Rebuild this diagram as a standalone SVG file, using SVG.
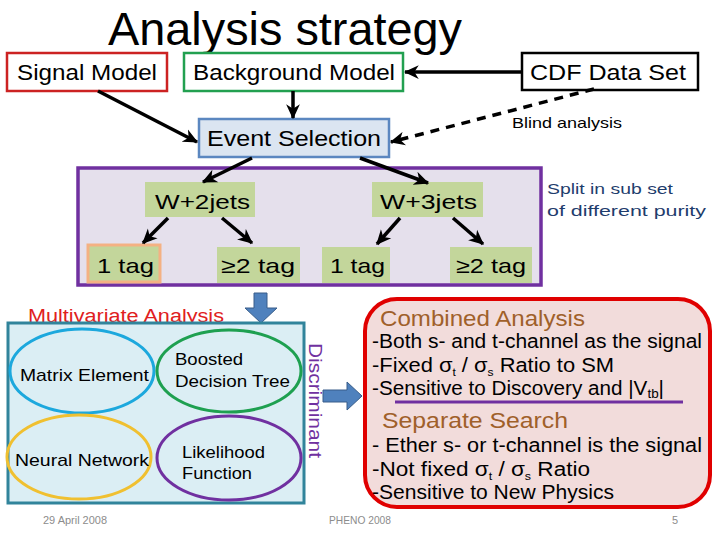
<svg xmlns="http://www.w3.org/2000/svg" width="720" height="540" viewBox="0 0 720 540">
<style>
text{font-family:"Liberation Sans","DejaVu Sans",sans-serif;fill:#000}
.box{stroke-width:2.5;fill:#fff}
.g{fill:#c3d69b;stroke:none}
.c{stroke:#000;stroke-width:3.5;fill:none;marker-end:url(#ah)}
.ell{fill:none;stroke-width:3}
.blk{fill:#4f81bd;stroke:#385d8a;stroke-width:1}
.m{font-size:20px}
.ft{font-size:11px;fill:#8c8c8c}
</style>
<defs>
<marker id="ah" viewBox="0 0 12 12" refX="11" refY="6" markerWidth="15" markerHeight="15" markerUnits="userSpaceOnUse" orient="auto">
<path d="M0,0.5 L12,6 L0,11.5 L3.5,6 z" fill="#000"/>
</marker>
</defs>
<rect width="720" height="540" fill="#fff"/>
<text x="108" y="45" font-size="46" textLength="354" lengthAdjust="spacingAndGlyphs">Analysis strategy</text>

<g id="purple-region">
<rect x="78" y="168" width="463" height="117" fill="#e5e0ec" stroke="#7030a0" stroke-width="3.5"/>
</g>

<g id="signal-model">
<rect class="box" x="7" y="53" width="160" height="38" stroke="#cc2222"/>
<text x="17" y="80" font-size="22" textLength="140" lengthAdjust="spacingAndGlyphs">Signal Model</text>
</g>
<g id="background-model">
<rect class="box" x="184" y="53" width="219" height="38" stroke="#22a050"/>
<text x="193" y="80" font-size="22" textLength="202" lengthAdjust="spacingAndGlyphs">Background Model</text>
</g>
<g id="cdf-data-set">
<rect class="box" x="522" y="53" width="176" height="37" stroke="#000"/>
<text x="530" y="80" font-size="22" textLength="156" lengthAdjust="spacingAndGlyphs">CDF Data Set</text>
</g>
<g id="event-selection">
<rect x="199" y="119" width="190" height="38" fill="#dbe5f1" stroke="#5b87c0" stroke-width="2.5"/>
<text x="207" y="146" font-size="22" textLength="174" lengthAdjust="spacingAndGlyphs">Event Selection</text>
</g>
<text x="512" y="128" font-size="15" textLength="110" lengthAdjust="spacingAndGlyphs">Blind analysis</text>

<g id="w2jets">
<rect class="g" x="145" y="182" width="110" height="35"/>
<text x="155" y="209" font-size="21" textLength="95" lengthAdjust="spacingAndGlyphs">W+2jets</text>
</g>
<g id="w3jets">
<rect class="g" x="372" y="182" width="111" height="35"/>
<text x="380" y="209" font-size="21" textLength="97" lengthAdjust="spacingAndGlyphs">W+3jets</text>
</g>
<g id="w2-1tag">
<rect x="88" y="245" width="72" height="37" fill="#c3d69b" stroke="#f4b183" stroke-width="3"/>
<text x="97" y="273" font-size="21" textLength="57" lengthAdjust="spacingAndGlyphs">1 tag</text>
</g>
<g id="w2-2tag">
<rect class="g" x="217" y="247" width="83" height="36"/>
<text x="221" y="273" font-size="21" textLength="74" lengthAdjust="spacingAndGlyphs">≥2 tag</text>
</g>
<g id="w3-1tag">
<rect class="g" x="322" y="247" width="68" height="36"/>
<text x="330" y="273" font-size="21" textLength="55" lengthAdjust="spacingAndGlyphs">1 tag</text>
</g>
<g id="w3-2tag">
<rect class="g" x="450" y="247" width="82" height="36"/>
<text x="456" y="273" font-size="21" textLength="70" lengthAdjust="spacingAndGlyphs">≥2 tag</text>
</g>
<text x="547" y="194" font-size="15" style="fill:#1f3d6d" textLength="126" lengthAdjust="spacingAndGlyphs">Split in sub set</text>
<text x="547" y="216" font-size="15" style="fill:#1f3d6d" textLength="159" lengthAdjust="spacingAndGlyphs">of different purity</text>

<g id="connectors">
<line class="c" x1="522" y1="72" x2="405" y2="72"/>
<line class="c" x1="98" y1="91" x2="197" y2="142"/>
<line class="c" x1="293" y1="91" x2="293" y2="118"/>
<line class="c" x1="594" y1="89" x2="391" y2="142" stroke-dasharray="9 7"/>
<line class="c" x1="252" y1="158" x2="203" y2="182"/>
<line class="c" x1="360" y1="158" x2="428" y2="183"/>
<line class="c" x1="168" y1="218" x2="143" y2="243"/>
<line class="c" x1="222" y1="218" x2="252" y2="243"/>
<line class="c" x1="400" y1="218" x2="377" y2="244"/>
<line class="c" x1="453" y1="218" x2="483" y2="244"/>
<polygon class="blk" points="254,293 267,293 267,308 277,308 261,323 245,308 254,308"/>
<polygon class="blk" points="323,390 347,390 347,382 362,396 347,410 347,402 323,402"/>
</g>

<text x="28" y="322" font-size="18" style="fill:#e02020" textLength="196" lengthAdjust="spacingAndGlyphs">Multivariate Analysis</text>
<g id="multivariate">
<rect x="8" y="323" width="296" height="180" fill="#dbeef4" stroke="#31849b" stroke-width="3"/>
</g>
<g id="matrix-element">
<ellipse class="ell" cx="82" cy="371" rx="72" ry="42" stroke="#1ca8dd"/>
<text x="20" y="381" font-size="17" textLength="129" lengthAdjust="spacingAndGlyphs">Matrix Element</text>
</g>
<g id="bdt">
<ellipse class="ell" cx="229" cy="371" rx="72" ry="41" stroke="#1ea050"/>
<text x="175" y="365" font-size="17" textLength="68" lengthAdjust="spacingAndGlyphs">Boosted</text>
<text x="175" y="387" font-size="17" textLength="115" lengthAdjust="spacingAndGlyphs">Decision Tree</text>
</g>
<g id="neural-network">
<ellipse class="ell" cx="79" cy="457" rx="72" ry="42" stroke="#f0c030"/>
<text x="15" y="466" font-size="17" textLength="134" lengthAdjust="spacingAndGlyphs">Neural Network</text>
</g>
<g id="likelihood">
<ellipse class="ell" cx="229" cy="458" rx="72" ry="42" stroke="#7030a0"/>
<text x="182" y="458" font-size="17" textLength="83" lengthAdjust="spacingAndGlyphs">Likelihood</text>
<text x="182" y="479" font-size="17" textLength="70" lengthAdjust="spacingAndGlyphs">Function</text>
</g>
<text transform="translate(309,343) rotate(90)" font-size="18" style="fill:#7030a0" textLength="115" lengthAdjust="spacingAndGlyphs">Discriminant</text>

<g id="results">
<rect x="365" y="299" width="345" height="208" rx="32" ry="32" fill="#f2dcdb" stroke="#e00000" stroke-width="4"/>
<text x="380" y="326" font-size="22" style="fill:#a0602a" textLength="205" lengthAdjust="spacingAndGlyphs">Combined Analysis</text>
<text class="m" x="372" y="348" textLength="330" lengthAdjust="spacingAndGlyphs">-Both s- and t-channel as the signal</text>
<text class="m" x="372" y="372" textLength="242" lengthAdjust="spacingAndGlyphs">-Fixed σ<tspan font-size="11" dy="4">t</tspan><tspan dy="-4"> / σ</tspan><tspan font-size="11" dy="4">s</tspan><tspan dy="-4"> Ratio to SM</tspan></text>
<text class="m" x="372" y="395" textLength="292" lengthAdjust="spacingAndGlyphs">-Sensitive to Discovery and |V<tspan font-size="13" dy="3">tb</tspan><tspan dy="-3">|</tspan></text>
<line x1="395" y1="402" x2="683" y2="402" stroke="#7030a0" stroke-width="3"/>
<text x="382" y="428" font-size="22" style="fill:#a0602a" textLength="186" lengthAdjust="spacingAndGlyphs">Separate Search</text>
<text class="m" x="372" y="452" textLength="330" lengthAdjust="spacingAndGlyphs">- Ether s- or t-channel is the signal</text>
<text class="m" x="372" y="476" textLength="218" lengthAdjust="spacingAndGlyphs">-Not fixed σ<tspan font-size="11" dy="4">t</tspan><tspan dy="-4"> / σ</tspan><tspan font-size="11" dy="4">s</tspan><tspan dy="-4"> Ratio</tspan></text>
<text class="m" x="372" y="499" textLength="242" lengthAdjust="spacingAndGlyphs">-Sensitive to New Physics</text>
</g>

<text class="ft" x="43" y="524" textLength="64" lengthAdjust="spacingAndGlyphs">29 April 2008</text>
<text class="ft" x="329" y="524" textLength="62" lengthAdjust="spacingAndGlyphs">PHENO 2008</text>
<text class="ft" x="672" y="524">5</text>
</svg>
